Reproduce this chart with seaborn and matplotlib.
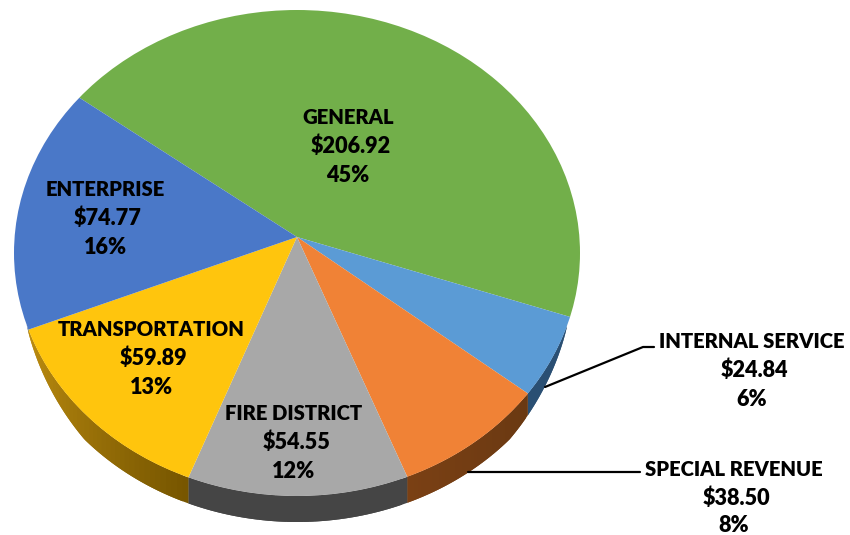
import numpy as np
import matplotlib
matplotlib.use("Agg")
import matplotlib.pyplot as plt
from matplotlib.colors import to_rgb
from matplotlib.patches import Ellipse
import seaborn as sns

# clockwise from the green slice
funds = ["GENERAL", "INTERNAL SERVICE", "SPECIAL REVENUE", "FIRE DISTRICT", "TRANSPORTATION", "ENTERPRISE"]
amounts = [206.92, 24.84, 38.50, 54.55, 59.89, 74.77]
percents = ["45%", "6%", "8%", "12%", "13%", "16%"]

top_colors = ["#72AF4A", "#5B9BD5", "#F08236", "#A8A8A8", "#FFC50D", "#4A78C8"]
side_start = ["#4B7530", "#2A4F73", "#6A3912", "#454545", "#775600", "#2E4A80"]
side_end = ["#4B7530", "#2A4F73", "#7A4014", "#454545", "#BC8C10", "#2E4A80"]

# pie geometry in image pixels
apex_x, apex_y = 297, 237
rx, ry = 283, 243
ell_offset = 16 / ry
depth_px = 26
start_angle = 143.3

sns.set_theme(style="white")
plt.rcParams["font.family"] = ["Lato", "DejaVu Sans"]

fig = plt.figure(figsize=(8.5, 5.35), dpi=100)
ax = fig.add_axes([0, 0, 1, 1])

wedges, _ = ax.pie(amounts, colors=sns.color_palette(top_colors), startangle=start_angle,
                   counterclock=False, radius=1.5, wedgeprops={"linewidth": 0})
ax.set_aspect("auto")
ax.set_xlim(-apex_x / rx, (850 - apex_x) / rx)
ax.set_ylim((apex_y - 535) / ry, apex_y / ry)

# the apex sits above the middle of the ellipse, so cut the wedges with it
outline = Ellipse((0, -ell_offset), 2, 2, transform=ax.transData)
for w in wedges:
    w.set_clip_on(True)
    w.set_clip_path(outline)


def rim(theta):
    s = np.sin(theta)
    t = -ell_offset * s + np.sqrt((ell_offset * s) ** 2 + 1 - ell_offset ** 2)
    return t * np.cos(theta), t * s


def side_depth(y):
    # how far the side wall hangs below the rim
    k = np.clip((-(y + ell_offset) - 0.30) / 0.36, 0, 1)
    return depth_px / ry * k ** 0.7


# side wall, overlapping strips so the shade can change along the rim
for w, c0, c1 in zip(wedges, side_start, side_end):
    c0 = np.array(to_rgb(c0))
    c1 = np.array(to_rgb(c1))
    angles = np.radians(np.linspace(w.theta2, w.theta1, 41))
    for i in range(40):
        th = np.linspace(angles[i], angles[min(i + 2, 40)], 6)
        x, y = rim(th)
        d = side_depth(y)
        if d.max() <= 0:
            continue
        col = c0 + (c1 - c0) * i / 39
        ax.fill(np.r_[x, x[::-1]], np.r_[y, (y - d)[::-1]], color=col, lw=0, zorder=0.5)

# overlay in pixels for the texts and leader lines
over = fig.add_axes([0, 0, 1, 1])
over.set_xlim(0, 850)
over.set_ylim(535, 0)
over.axis("off")

label_x = [348, 752, 734, 294, 151, 105]
label_y = [117, 341, 469, 413, 329, 189]
line_step = 29.3
for name, amount, pct, x, y in zip(funds, amounts, percents, label_x, label_y):
    over.text(x, y, name, ha="center", va="center", fontsize=14.6, fontweight="heavy", color="black")
    over.text(x + 2.5, y + line_step, f"${amount:.2f}", ha="center", va="center", fontsize=15.6,
              fontweight="heavy", color="black")
    # keep the last line of the lowest label inside the picture
    over.text(x, min(y + 2 * line_step, 526), pct, ha="center", va="center", fontsize=15.6,
              fontweight="heavy", color="black")

over.plot([545, 643, 654], [387, 347, 347], color="black", lw=1.6)
over.plot([468, 640], [472, 472], color="black", lw=1.6)

fig.savefig("out.png", dpi=100)
